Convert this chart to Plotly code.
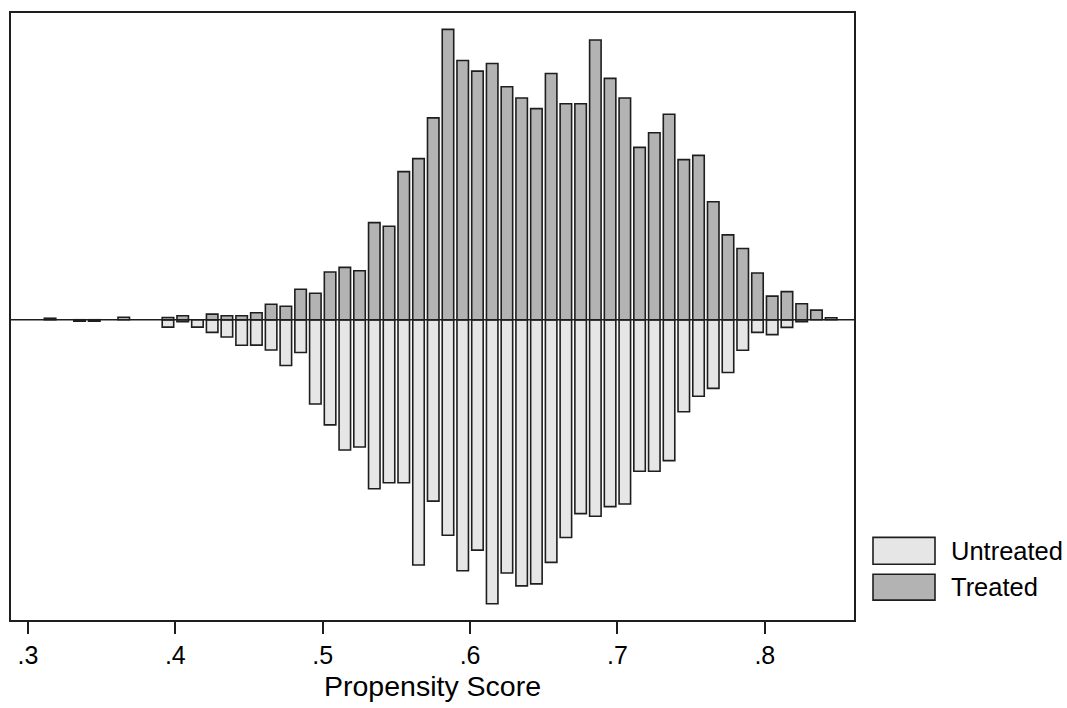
import plotly.graph_objects as go

# bin centres of the propensity-score histogram
bin_centers = [round(0.315 + 0.01 * i, 3) for i in range(54)]

treated = [1.5, 0, 0, 0, 0, 2.5, 0, 0, 2.3, 4,
           0, 5.6, 4, 4, 7, 15.5, 13.5, 30.7, 26.7, 48,
           52.7, 49.3, 97.7, 94, 149, 162, 203, 292, 260.7, 250,
           257.7, 234.3, 223, 212.3, 247.7, 217.3, 217.3, 281.3, 242.7, 223,
           173.3, 188, 206.7, 161, 165.3, 118.7, 85.3, 71.7, 47, 23.7,
           28.3, 16, 9.7, 2]

untreated = [0, 0, 1.5, 1.5, 0, 0, 0, 0, 7.4, 2,
             7.4, 12.7, 17.4, 25.7, 25.5, 30.5, 46, 33, 84.7, 105.7,
             131, 128, 170, 164, 164, 246.7, 182.4, 216.7, 252.4, 231.7,
             285.7, 254.7, 267.7, 265.7, 244, 219, 195, 197.7, 188, 185.4,
             152.4, 152.4, 141.7, 92.5, 77, 69, 53, 30.7, 12.7, 15,
             7.7, 2, 0, 0]

tick_vals = [0.3, 0.4, 0.5, 0.6, 0.7, 0.8]
tick_text = [".3", ".4", ".5", ".6", ".7", ".8"]
legend_labels = ["Untreated", "Treated"]

FONT = "Liberation Sans, Arial, sans-serif"
LINE = "#1e1e1e"
C_TREAT = "#b3b3b3"
C_UNTREAT = "#e6e6e6"

W, H = 1067, 708
L, R, T, B = 11, 213, 11, 87

fig = go.Figure()
tx = [x for x, v in zip(bin_centers, treated) if v > 0]
ty = [v for v in treated if v > 0]
ux = [x for x, v in zip(bin_centers, untreated) if v > 0]
uy = [-v for v in untreated if v > 0]

fig.add_trace(go.Bar(x=ux, y=uy, base=0, width=0.0078, name=legend_labels[0],
                     marker=dict(color=C_UNTREAT, line=dict(color=LINE, width=1.6)),
                     showlegend=False))
fig.add_trace(go.Bar(x=tx, y=ty, base=0, width=0.0078, name=legend_labels[1],
                     marker=dict(color=C_TREAT, line=dict(color=LINE, width=1.6)),
                     showlegend=False))

# zero line
fig.add_shape(type="line", xref="paper", yref="y", x0=0, x1=1, y0=0, y1=0,
              line=dict(color=LINE, width=1.6), layer="above")

# manual legend
pw = W - L - R
ph = H - T - B
def px(x):
    return (x - L) / pw
def py(y):
    return (H - B - y) / ph

boxes = [(538, 565, C_UNTREAT), (575, 601, C_TREAT)]
for (y0, y1, col), lab in zip(boxes, legend_labels):
    fig.add_shape(type="rect", xref="paper", yref="paper",
                  x0=px(873), x1=px(935), y0=py(y1), y1=py(y0),
                  fillcolor=col, line=dict(color=LINE, width=1.6))
    fig.add_annotation(xref="paper", yref="paper", x=px(949), y=py((y0 + y1) / 2),
                       text=lab, showarrow=False, xanchor="left", yanchor="middle",
                       font=dict(family=FONT, size=25.5, color="black"))

fig.update_layout(
    width=W, height=H,
    margin=dict(l=L, r=R, t=T, b=B),
    paper_bgcolor="white", plot_bgcolor="white",
    barmode="overlay",
    font=dict(family=FONT, size=25, color="black"),
    xaxis=dict(range=[0.2885, 0.8605], tickvals=tick_vals, ticktext=tick_text,
               ticks="outside", ticklen=12, tickwidth=1.6, tickcolor=LINE,
               showline=True, linecolor=LINE, linewidth=2, mirror=True,
               showgrid=False, zeroline=False,
               tickfont=dict(family=FONT, size=25, color="black"),
               title=dict(text="Propensity Score", standoff=8,
                          font=dict(family=FONT, size=28.5, color="black"))),
    yaxis=dict(range=[-302, 308.5], showticklabels=False, ticks="",
               showline=True, linecolor=LINE, linewidth=2, mirror=True,
               showgrid=False, zeroline=False),
)

fig.write_html("out.html")
